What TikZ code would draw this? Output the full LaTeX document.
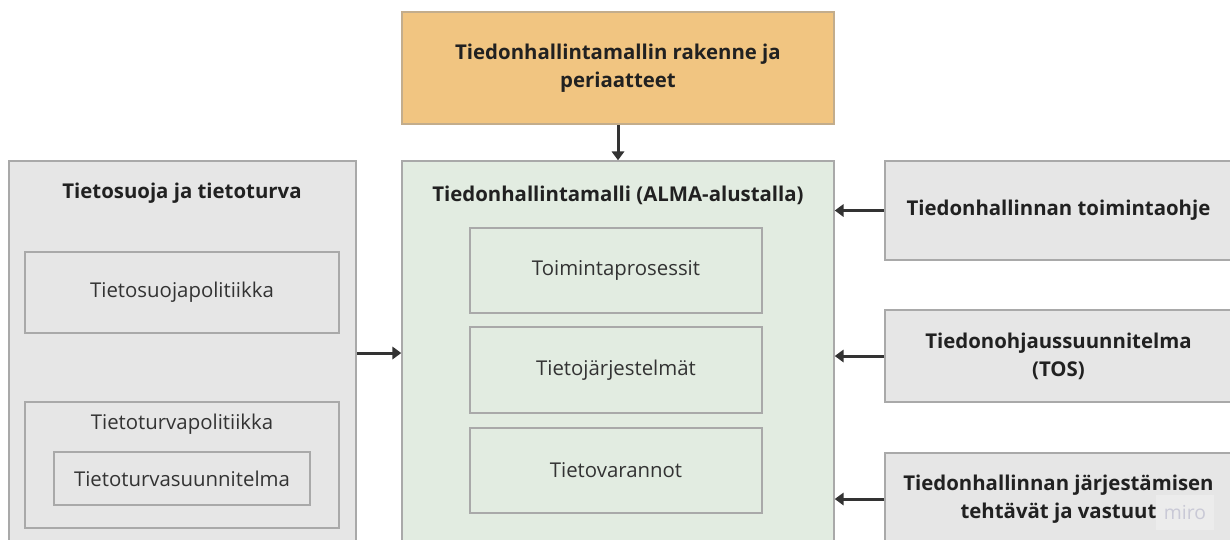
\documentclass[tikz,border=0pt]{standalone}
\usepackage{fontspec}
\setmainfont{Open Sans}
\usepackage{xcolor}
\usetikzlibrary{positioning,arrows.meta}

\definecolor{orangefill}{HTML}{F1C581}
\definecolor{greenfill}{HTML}{E2ECE1}
\definecolor{greyfill}{HTML}{E6E6E6}
\definecolor{boxline}{HTML}{A9A9A9}
\definecolor{arrowgrey}{HTML}{333333}
\definecolor{mirotext}{HTML}{C9C9D6}

\begin{document}
\begin{tikzpicture}[x=0.02cm, y=-0.02cm,
    box/.style={draw=boxline, line width=0.9pt, inner sep=0pt, align=center,
        font=\fontsize{11.6}{16}\selectfont, text=black!80},
    heading/.style={font=\fontsize{11.6}{16}\selectfont\bfseries, text=black!87, align=center},
    feed/.style={-{Triangle[width=7pt,length=5pt]}, line width=1.7pt, draw=arrowgrey}]

    \useasboundingbox (0,0) rectangle (1230,539);

    % top
    \node[box, heading, fill=orangefill, draw=orangefill!70!black!70, minimum width=8.64cm, minimum height=2.24cm]
        (rakenne) at (618,68) {Tiedonhallintamallin rakenne ja\\periaatteet};

    % middle
    \node[box, fill=greenfill, minimum width=8.64cm, minimum height=7.68cm] (malli) at (618,353) {};
    \node[heading] (mallititle) at (618,195) {Tiedonhallintamalli (ALMA-alustalla)};
    \node[box, minimum width=5.84cm, minimum height=1.7cm] (prosessit) at (616,270.5) {Toimintaprosessit};
    \node[box, minimum width=5.84cm, minimum height=1.72cm] (jarjestelmat) at (616,370) {Tietojärjestelmät};
    \node[box, minimum width=5.84cm, minimum height=1.7cm] (varannot) at (616,470.5) {Tietovarannot};

    % left
    \node[box, fill=greyfill, minimum width=6.94cm, minimum height=7.68cm] (turva) at (182.5,353) {};
    \node[heading] (turvatitle) at (182,193) {Tietosuoja ja tietoturva};
    \node[box, minimum width=6.28cm, minimum height=1.62cm] (suojapol) at (182,292.5) {Tietosuojapolitiikka};
    \node[box, minimum width=6.28cm, minimum height=2.52cm] (turvapol) at (182,465) {};
    \node[font=\fontsize{11.6}{16}\selectfont, text=black!80] (turvapoltitle) at (182,424) {Tietoturvapolitiikka};
    \node[box, minimum width=5.12cm, minimum height=1.06cm] (turvasuun) at (182,478.5) {Tietoturvasuunnitelma};

    % right
    \node[box, heading, fill=greyfill, minimum width=6.94cm, minimum height=1.98cm]
        (ohje) at (1058.5,210.5) {Tiedonhallinnan toimintaohje};
    \node[box, heading, fill=greyfill, minimum width=6.94cm, minimum height=1.84cm]
        (tos) at (1058.5,356) {Tiedonohjaussuunnitelma\\(TOS)};
    \node[box, heading, fill=greyfill, minimum width=6.94cm, minimum height=1.84cm]
        (vastuut) at (1058.5,499) {Tiedonhallinnan järjestämisen\\tehtävät ja vastuut};
    \node[fill=white!25!greyfill, text=mirotext, font=\fontsize{11}{12}\selectfont,
        minimum width=1.15cm, minimum height=0.7cm, inner sep=0pt] (miro) at (1185,512) {miro};

    \path
        (rakenne) edge[feed] (malli)
        (turva) edge[feed] (malli)
        (ohje.west) edge[feed] (ohje.west -| malli.east)
        (tos.west) edge[feed] (tos.west -| malli.east)
        (vastuut.west) edge[feed] (vastuut.west -| malli.east);

\end{tikzpicture}
\end{document}
